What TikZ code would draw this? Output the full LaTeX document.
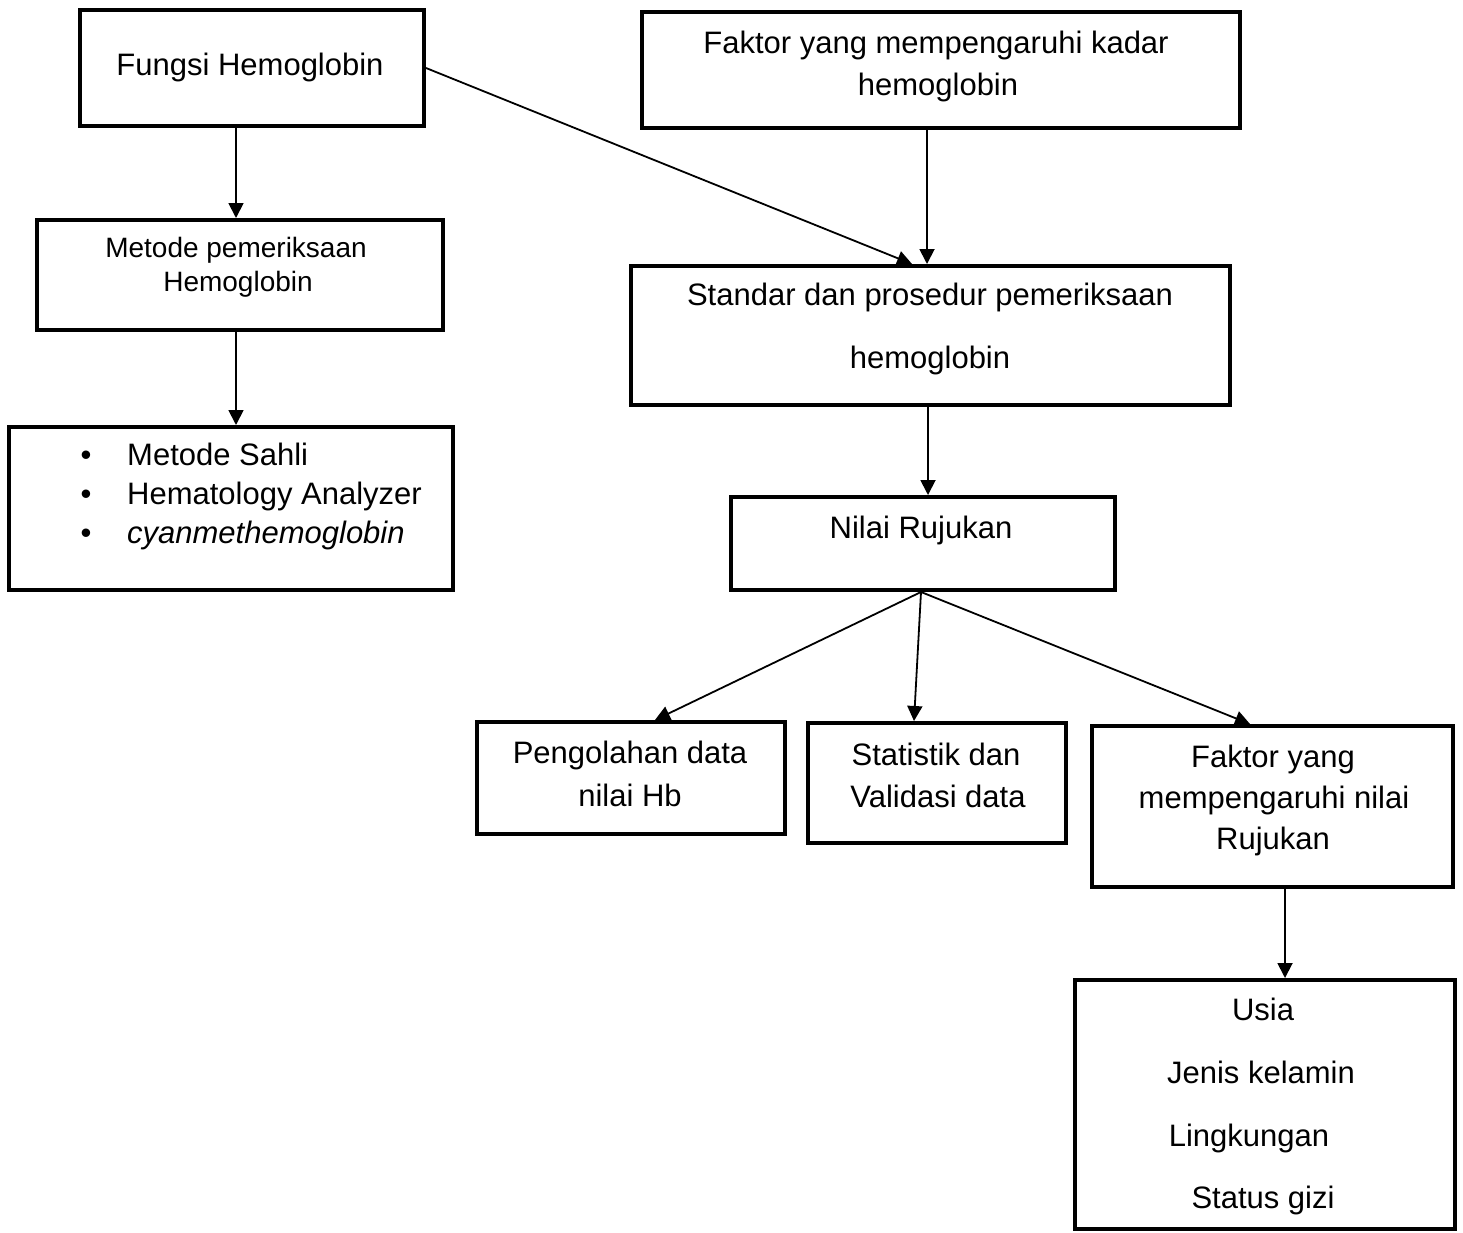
\documentclass[tikz,border=0pt]{standalone}
\usepackage{fontspec}
\setmainfont{Liberation Sans}
\usetikzlibrary{arrows.meta}
\begin{document}
\begin{tikzpicture}[x=1pt,y=-1pt,
  box/.style={draw, line width=4pt, inner sep=0pt},
  lbl/.style={inner sep=0pt, anchor=base, font=\fontsize{31}{37}\selectfont},
  lbls/.style={inner sep=0pt, anchor=base, font=\fontsize{28}{34}\selectfont},
  lblw/.style={inner sep=0pt, anchor=base west, font=\fontsize{31}{37}\selectfont},
  arr/.style={line width=1.8pt, -{Triangle[length=15pt,width=15pt]}}]
\useasboundingbox (0,0) rectangle (1463,1232);
% boxes
\node[box, minimum width=344pt, minimum height=116pt] (fungsi) at (252,68) {};
\node[box, minimum width=598pt, minimum height=116pt] (faktor) at (941,70) {};
\node[box, minimum width=406pt, minimum height=110pt] (metode) at (240,275) {};
\node[box, minimum width=444pt, minimum height=163pt] (list) at (231,508.5) {};
\node[box, minimum width=599pt, minimum height=139pt] (standar) at (930.5,335.5) {};
\node[box, minimum width=384pt, minimum height=93pt] (nilai) at (923,543.5) {};
\node[box, minimum width=308pt, minimum height=112pt] (olah) at (631,778) {};
\node[box, minimum width=258pt, minimum height=120pt] (stat) at (937,783) {};
\node[box, minimum width=361pt, minimum height=161pt] (fnilai) at (1272.5,806.5) {};
\node[box, minimum width=380pt, minimum height=249pt] (usia) at (1265,1104.5) {};
% texts
\node[lbl] (tfungsi) at (250,75) {Fungsi Hemoglobin};
\node[lbl] (tfaktorA) at (936,53) {Faktor yang mempengaruhi kadar};
\node[lbl] (tfaktorB) at (938,95) {hemoglobin};
\node[lbls] (tmetodeA) at (236,257) {Metode pemeriksaan};
\node[lbls] (tmetodeB) at (238,291) {Hemoglobin};
\node[lbl] (bulA) at (86,465) {•};
\node[lbl] (bulB) at (86,504) {•};
\node[lbl] (bulC) at (86,543) {•};
\node[lblw] (tlistA) at (127,465) {Metode Sahli};
\node[lblw] (tlistB) at (127,504) {Hematology Analyzer};
\node[lblw] (tlistC) at (127,543) {\itshape cyanmethemoglobin};
\node[lbl] (tstandarA) at (930,305) {Standar dan prosedur pemeriksaan};
\node[lbl] (tstandarB) at (930,368) {hemoglobin};
\node[lbl] (tnilai) at (921,538) {Nilai Rujukan};
\node[lbl] (tolahA) at (630,763) {Pengolahan data};
\node[lbl] (tolahB) at (630,806) {nilai Hb};
\node[lbl] (tstatA) at (936,765) {Statistik dan};
\node[lbl] (tstatB) at (938,807) {Validasi data};
\node[lbl] (tfnA) at (1273,767) {Faktor yang};
\node[lbl] (tfnB) at (1274,808) {mempengaruhi nilai};
\node[lbl] (tfnC) at (1273,849) {Rujukan};
\node[lbl] (tusiaA) at (1263,1020) {Usia};
\node[lbl] (tusiaB) at (1261,1083) {Jenis kelamin};
\node[lbl] (tusiaC) at (1249,1146) {Lingkungan};
\node[lbl] (tusiaD) at (1263,1208) {Status gizi};
% connectors
\draw[arr] ([xshift=-16pt]fungsi.south) -- ([xshift=-4pt]metode.north);
\draw[arr] (fungsi.east) -- ([xshift=-18.5pt]standar.north);
\draw[arr] ([xshift=-14pt]faktor.south) -- ([xshift=-3.5pt]standar.north);
\draw[arr] ([xshift=-4pt]metode.south) -- ([xshift=5pt]list.north);
\draw[arr] ([xshift=-2.5pt]standar.south) -- ([xshift=5pt]nilai.north);
\draw[arr] ([xshift=-2pt]nilai.south) -- ([xshift=24pt]olah.north);
\draw[arr] ([xshift=-2pt]nilai.south) -- ([xshift=-23pt]stat.north);
\draw[arr] ([xshift=-2pt]nilai.south) -- ([xshift=-22.5pt]fnilai.north);
\draw[arr] ([xshift=12.5pt]fnilai.south) -- ([xshift=20pt]usia.north);
\end{tikzpicture}
\end{document}
